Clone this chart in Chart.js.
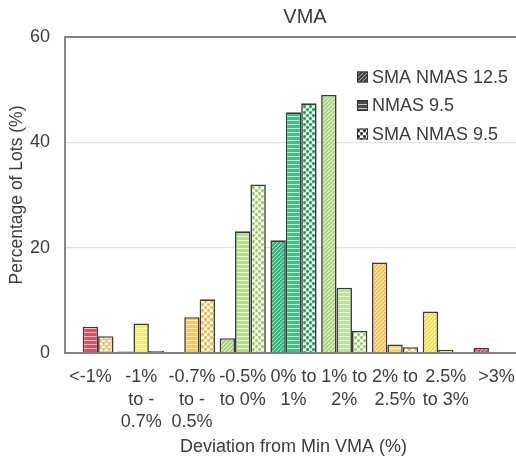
<!DOCTYPE html>
<html>
<head>
<meta charset="utf-8">
<script src="https://cdn.jsdelivr.net/npm/chart.js@4.4.1/dist/chart.umd.min.js"></script>
<style>
    html, body { margin: 0; padding: 0; background: #fff; overflow: hidden; }
    #wrap { width: 610px; height: 459px; }
</style>
</head>
<body>
<div id="wrap"><canvas id="vmaChart" width="610" height="459"></canvas></div>
<script>
    const categories = [
        ['<-1%'], ['-1%', 'to -', '0.7%'], ['-0.7%', 'to -', '0.5%'], ['-0.5%', 'to 0%'],
        ['0% to', '1%'], ['1% to', '2%'], ['2% to', '2.5%'], ['2.5%', 'to 3%'], ['>3%']
    ];
    const seriesNames = ['SMA NMAS 12.5', 'NMAS 9.5', 'SMA NMAS 9.5'];
    const sma125 = [0, 0.3, 0.2, 2.8, 21.4, 49.0, 17.2, 7.9, 1.0];
    const nmas95 = [5.0, 5.6, 6.8, 23.1, 45.7, 12.4, 1.6, 0.6, 0];
    const sma95 = [3.2, 0.4, 10.2, 32.0, 47.4, 4.2, 1.1, 0, 0];
    const yTicks = [0, 20, 40, 60];

    // colour of each deviation band, and the dot colour for the dotted series
    const bandColors = ['#e8485c', '#f5ee6a', '#fbc660', '#b5df8c', '#3fbf82', '#bbe394', '#fbd26e', '#f6ee66', '#e2505f'];
    const dotColors = ['#efc24a', '#e6dc4a', '#f2b13c', '#93cc62', '#139a55', '#93cc62', '#f0b83c', '#e6dc4a', '#d84050'];

    const FONT = 'Liberation Sans, Arial, sans-serif';
    const TEXT = '#3c3c3c';

    function makePattern(type, color, dotColor) {
        const c = document.createElement('canvas');
        const ctx = c.getContext('2d');
        if (type === 'hatch') {
            c.width = 4; c.height = 4;
            ctx.fillStyle = color;
            ctx.fillRect(0, 0, 4, 4);
            ctx.strokeStyle = 'rgba(255,255,255,0.5)';
            ctx.lineWidth = 1;
            ctx.beginPath();
            ctx.moveTo(-1, 5); ctx.lineTo(5, -1);
            ctx.stroke();
            ctx.strokeStyle = 'rgba(0,0,0,0.12)';
            ctx.beginPath();
            ctx.moveTo(-1, 3); ctx.lineTo(3, -1);
            ctx.moveTo(1, 5); ctx.lineTo(5, 1);
            ctx.stroke();
        } else if (type === 'stripes') {
            c.width = 4; c.height = 4;
            ctx.fillStyle = color;
            ctx.fillRect(0, 0, 4, 4);
            ctx.fillStyle = 'rgba(255,255,255,0.7)';
            ctx.fillRect(0, 0, 4, 1);
        } else {
            c.width = 6; c.height = 6;
            ctx.fillStyle = '#fbfdf6';
            ctx.fillRect(0, 0, 6, 6);
            ctx.fillStyle = color;
            ctx.globalAlpha = 0.35;
            ctx.fillRect(0, 0, 6, 1);
            ctx.fillRect(0, 3, 6, 1);
            ctx.globalAlpha = 1;
            ctx.fillStyle = dotColor;
            ctx.beginPath();
            ctx.arc(1.5, 1.5, 1.5, 0, Math.PI * 2);
            ctx.arc(4.5, 4.5, 1.5, 0, Math.PI * 2);
            ctx.fill();
        }
        return ctx.createPattern(c, 'repeat');
    }

    const patternTypes = ['hatch', 'stripes', 'dots'];
    const seriesData = [sma125, nmas95, sma95];

    const datasets = seriesData.map((values, s) => ({
        label: seriesNames[s],
        data: values,
        backgroundColor: bandColors.map((col, i) => makePattern(patternTypes[s], col, dotColors[i])),
        borderColor: '#3a3a3a',
        borderWidth: 1.6,
        borderSkipped: 'bottom',
        categoryPercentage: 0.91,
        barPercentage: 1.0
    }));

    // plot frame drawn over the bars
    const framePlugin = {
        id: 'frame',
        afterDatasetsDraw(chart) {
            const { ctx, chartArea: a } = chart;
            ctx.save();
            ctx.strokeStyle = '#5c636c';
            ctx.lineWidth = 1.5;
            ctx.strokeRect(a.left, a.top, a.right - a.left, a.bottom - a.top);
            ctx.restore();
        }
    };

    // legend sits inside the plot, top right
    const legendPlugin = {
        id: 'insideLegend',
        afterDraw(chart) {
            const ctx = chart.ctx;
            const x = 357, y0 = 77, step = 28.5;
            ctx.save();
            ctx.font = '18px ' + FONT;
            ctx.textBaseline = 'middle';
            seriesNames.forEach((name, s) => {
                const y = y0 + s * step;
                ctx.fillStyle = makePattern(patternTypes[s], '#4a4a4a', '#2a2a2a');
                ctx.fillRect(x, y - 5.5, 11, 11);
                ctx.strokeStyle = '#333';
                ctx.lineWidth = 1;
                ctx.strokeRect(x + 0.5, y - 5, 10, 10);
                ctx.fillStyle = TEXT;
                ctx.fillText(name, x + 15, y + 1);
            });
            ctx.restore();
        }
    };

    new Chart(document.getElementById('vmaChart'), {
        type: 'bar',
        data: { labels: categories, datasets: datasets },
        options: {
            responsive: false,
            animation: false,
            devicePixelRatio: 1,
            layout: { padding: 0 },
            plugins: {
                legend: { display: false },
                tooltip: { enabled: false },
                title: {
                    display: true,
                    text: 'VMA',
                    color: TEXT,
                    font: { family: FONT, size: 20, weight: 'normal' },
                    padding: { top: 5, bottom: 8 }
                }
            },
            scales: {
                x: {
                    grid: { display: false, drawTicks: false },
                    border: { display: false },
                    afterFit(axis) { axis.height = 106; },
                    ticks: {
                        color: TEXT,
                        font: { family: FONT, size: 18, lineHeight: 1.25 },
                        padding: 13,
                        maxRotation: 0,
                        autoSkip: false
                    },
                    title: {
                        display: true,
                        text: 'Deviation from Min VMA (%)',
                        color: TEXT,
                        font: { family: FONT, size: 18 },
                        padding: { top: 0, bottom: 1 }
                    }
                },
                y: {
                    min: yTicks[0],
                    max: yTicks[yTicks.length - 1],
                    afterBuildTicks(axis) { axis.ticks = yTicks.map(v => ({ value: v })); },
                    afterFit(axis) { axis.width = 65; },
                    grid: { color: '#e2e2e2', lineWidth: 1.2, drawTicks: false },
                    border: { display: false },
                    ticks: {
                        color: TEXT,
                        font: { family: FONT, size: 18 },
                        padding: 15
                    },
                    title: {
                        display: true,
                        text: 'Percentage of Lots (%)',
                        color: TEXT,
                        font: { family: FONT, size: 17.5 },
                        padding: { top: 7, bottom: 0 }
                    }
                },
                // empty strip on the right, so the plot runs past the window edge like the original
                yRight: {
                    type: 'linear',
                    axis: 'y',
                    position: 'right',
                    grid: { display: false, drawTicks: false },
                    border: { display: false },
                    ticks: { display: false },
                    afterFit(axis) { axis.width = 88; }
                }
            }
        },
        plugins: [framePlugin, legendPlugin]
    });
</script>
</body>
</html>
